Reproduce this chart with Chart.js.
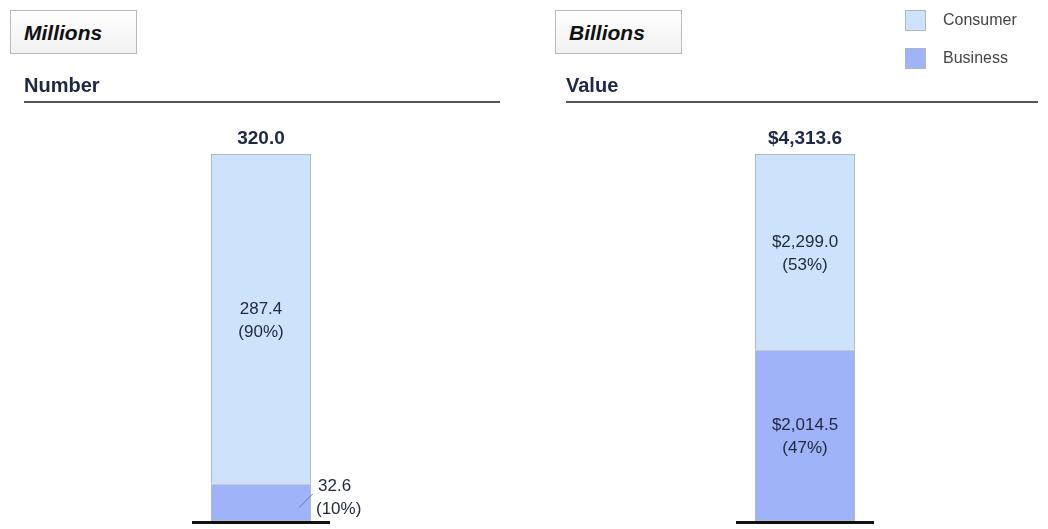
<!DOCTYPE html>
<html>
<head>
<meta charset="utf-8">
<title>Consumer vs Business</title>
<style>
    body { margin: 0; background: #fff; font-family: "Liberation Sans", Arial, sans-serif; }
    #wrap { position: relative; width: 1048px; height: 529px; overflow: hidden; }
    canvas { position: absolute; top: 0; }
    .unit {
        position: absolute; top: 10px; height: 44px; width: 127px;
        border: 1px solid #b9b9b9; background: linear-gradient(#ffffff, #f1f1f1);
        font: italic bold 21px "Liberation Sans", Arial, sans-serif; color: #111;
        line-height: 44px; padding-left: 13px; box-sizing: border-box;
    }
    .head {
        position: absolute; top: 74px; font: bold 20px "Liberation Sans", Arial, sans-serif;
        color: #1d2845; border-bottom: 2px solid #555; height: 27px; box-sizing: content-box;
    }
    .leg { position: absolute; left: 905px; font: 16px "Liberation Sans", Arial, sans-serif; color: #444; }
    .leg span { display: inline-block; width: 19px; height: 19px; border: 1px solid #b0b6c2; vertical-align: middle; margin-right: 17px; }
</style>
</head>
<body>
<div id="wrap">
    <canvas id="numChart" width="524" height="529" style="left:0"></canvas>
    <canvas id="valChart" width="524" height="529" style="left:524px"></canvas>
    <div class="unit" style="left:10px">Millions</div>
    <div class="unit" style="left:555px">Billions</div>
    <div class="head" style="left:24px;width:476px">Number</div>
    <div class="head" style="left:566px;width:472px">Value</div>
    <div class="leg" style="top:10px"><span style="background:#cde3fb"></span>Consumer</div>
    <div class="leg" style="top:48px"><span style="background:#9fb3f8"></span>Business</div>
</div>
<script src="https://cdn.jsdelivr.net/npm/chart.js@4"></script>
<script>
    const categories = ['Number', 'Value'];
    const consumer = [287.4, 2299.0];
    const business = [32.6, 2014.5];
    const totals = [320.0, 4313.6];
    const consumerPct = [90, 53];
    const businessPct = [10, 47];
    const prefix = ['', '$'];

    const consumerColor = '#cde3fb';
    const businessColor = '#9fb3f8';

    function fmt(v, i) {
        return prefix[i] + v.toLocaleString('en-US', { minimumFractionDigits: 1, maximumFractionDigits: 1 });
    }

    // draws totals, segment labels and the black base line
    const labelPlugin = {
        id: 'labels',
        afterDraw(chart) {
            const i = chart.options.plugins.labels.idx;
            const c = chart.ctx;
            const area = chart.chartArea;
            const bot = chart.getDatasetMeta(0).data[0];
            const top = chart.getDatasetMeta(1).data[0];
            const cx = top.x;
            c.save();
            c.textAlign = 'center';
            c.fillStyle = '#1d2845';
            c.font = 'bold 19px "Liberation Sans", Arial, sans-serif';
            c.fillText(fmt(totals[i], i), cx, top.y - 10);

            c.font = '17px "Liberation Sans", Arial, sans-serif';
            c.fillStyle = '#222b3e';
            const cy = (top.y + top.base) / 2;
            c.fillText(fmt(consumer[i], i), cx, cy - 5);
            c.fillText('(' + consumerPct[i] + '%)', cx, cy + 18);

            const by = (bot.y + bot.base) / 2;
            if (bot.base - bot.y > 60) {
                c.fillText(fmt(business[i], i), cx, by - 5);
                c.fillText('(' + businessPct[i] + '%)', cx, by + 18);
            } else {
                c.textAlign = 'left';
                const lx = cx + bot.width / 2 + 7;
                c.fillText(fmt(business[i], i), lx, bot.y + 7);
                c.fillText('(' + businessPct[i] + '%)', lx - 2, bot.y + 30);
                c.strokeStyle = '#6b7a99';
                c.lineWidth = 1;
                c.beginPath();
                c.moveTo(cx + 38, bot.y + 24);
                c.lineTo(cx + 52, bot.y + 10);
                c.stroke();
            }

            c.fillStyle = '#111';
            c.fillRect(cx - 69, area.bottom, 138, 3);
            c.restore();
        }
    };

    function makeChart(id, i, padLeft, padRight) {
        return new Chart(document.getElementById(id), {
            type: 'bar',
            data: {
                labels: [categories[i]],
                datasets: [
                    { label: 'Business', data: [business[i]], backgroundColor: businessColor, borderColor: '#b4bac6', borderWidth: 1, borderSkipped: false },
                    { label: 'Consumer', data: [consumer[i]], backgroundColor: consumerColor, borderColor: '#b4bac6', borderWidth: 1, borderSkipped: false }
                ]
            },
            options: {
                responsive: false,
                animation: false,
                layout: { padding: { left: padLeft, right: padRight, top: 154, bottom: 8 } },
                datasets: { bar: { barPercentage: 0.5, categoryPercentage: 1 } },
                scales: {
                    x: { stacked: true, display: false },
                    y: { stacked: true, display: false, min: 0, max: totals[i] }
                },
                plugins: {
                    legend: { display: false },
                    tooltip: { enabled: false },
                    labels: { idx: i }
                }
            },
            plugins: [labelPlugin]
        });
    }

    const numChart = makeChart('numChart', 0, 161, 163);
    const valChart = makeChart('valChart', 1, 181, 143);
</script>
</body>
</html>
